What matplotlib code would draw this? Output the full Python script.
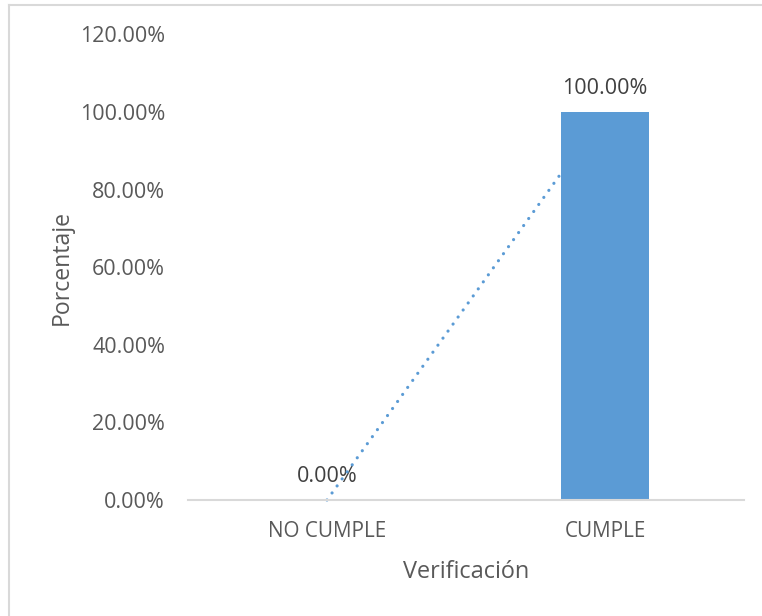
import matplotlib
matplotlib.use("Agg")
import matplotlib.pyplot as plt
import numpy as np
from matplotlib.lines import Line2D
from matplotlib.ticker import FuncFormatter

categories = ["NO CUMPLE", "CUMPLE"]
values = [0.0, 100.0]
yticks = [0, 20, 40, 60, 80, 100, 120]

plt.rcParams['font.family'] = ['Open Sans', 'DejaVu Sans']
text_color = '#595959'
bar_color = '#5B9BD5'
bar_width = 0.317

W, H = 762, 616
fig = plt.figure(figsize=(W / 100, H / 100), dpi=100)
ax = fig.add_axes([188 / W, (H - 500) / H, (744 - 188) / W, (500 - 34.4) / H])

x = np.arange(len(categories))
# linear trendline (Excel-style), hidden behind the second bar
slope, intercept = np.polyfit(x, values, 1)
tx = np.array([x[0], x[-1] - bar_width / 2])
ax.plot(tx, slope * tx + intercept, color=bar_color, lw=2.3, linestyle=(0, (0.01, 2.7)),
        dash_capstyle='round', zorder=1, clip_on=False)
bars = ax.bar(x, values, width=bar_width, color=bar_color, zorder=2)

for xi, v in zip(x, values):
    ax.text(xi, v + 3.3, f"{v:.2f}%", ha='center', va='bottom', fontsize=15.5,
            color='#404040', zorder=0)

ax.set_xlim(-0.5, 1.5)
ax.set_ylim(0, 120)
ax.set_yticks(yticks)
ax.yaxis.set_major_formatter(FuncFormatter(lambda v, p: f"{v:.2f}%"))
ax.set_xticks(x)
ax.set_xticklabels(categories)
ax.tick_params(axis='both', length=0, colors=text_color)
ax.tick_params(axis='y', pad=16.5, labelsize=15.5)
ax.tick_params(axis='x', pad=15, labelsize=14.9)
for s in ['top', 'right', 'left']:
    ax.spines[s].set_visible(False)
ax.spines['bottom'].set_color('#d9d9d9')
ax.spines['bottom'].set_linewidth(1.5)

ax.set_xlabel("Verificación", fontsize=16.9, color=text_color, labelpad=13)
ax.set_ylabel("Porcentaje", fontsize=16.6, color=text_color, labelpad=4)

# outer chart frame (left and top edges visible)
fig.add_artist(Line2D([8.5 / W, 8.5 / W], [0, (H - 5) / H], transform=fig.transFigure,
                      color='#d9d9d9', lw=1.5))
fig.add_artist(Line2D([8.5 / W, 1], [(H - 5) / H, (H - 5) / H], transform=fig.transFigure,
                      color='#d9d9d9', lw=1.5))

fig.savefig("out.png", dpi=100)
